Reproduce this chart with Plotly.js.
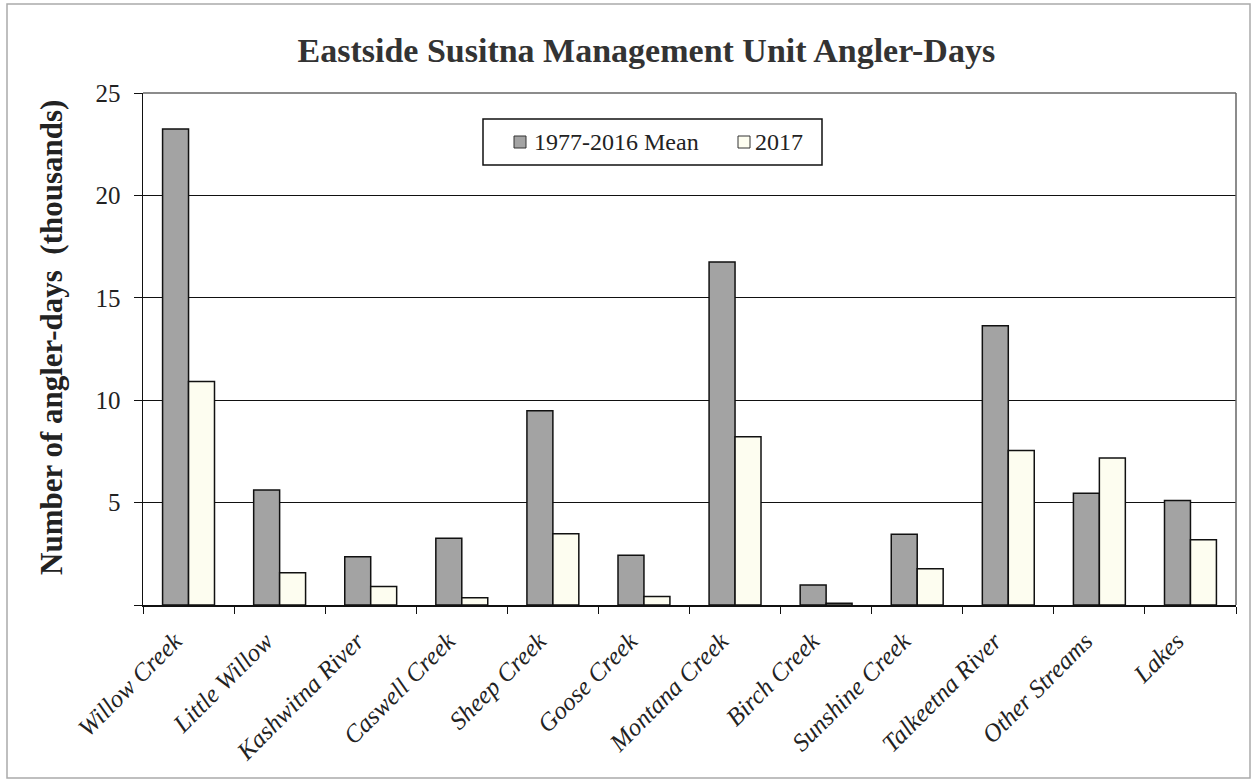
<!DOCTYPE html>
<html>
<head>
<meta charset="utf-8">
<script src="https://cdn.plot.ly/plotly-3.0.1.min.js"></script>
<style>
html,body{margin:0;padding:0;background:#fff;}
#chart{width:1255px;height:779px;}
</style>
</head>
<body>
<div id="chart"></div>
<script>
const categories = ["Willow Creek","Little Willow","Kashwitna River","Caswell Creek","Sheep Creek","Goose Creek","Montana Creek","Birch Creek","Sunshine Creek","Talkeetna River","Other Streams","Lakes"];
const meanValues = [23.24, 5.62, 2.36, 3.26, 9.48, 2.43, 16.75, 0.98, 3.45, 13.63, 5.46, 5.10];
const values2017 = [10.91, 1.58, 0.90, 0.36, 3.48, 0.42, 8.22, 0.08, 1.77, 7.54, 7.18, 3.18];
const seriesNames = ["1977-2016 Mean", "2017"];
const seriesColors = ["#a3a3a3", "#fdfdf0"];
const yTickVals = [0, 5, 10, 15, 20, 25];
const yTickText = ["", "5", "10", "15", "20", "25"];
const yTitle = "Number of angler-days  (thousands)";
const chartTitle = "Eastside Susitna Management Unit Angler-Days";

const serif = "Liberation Serif, Times New Roman, serif";

// plot area in pixels (for legend / label placement helpers)
const W = 1255, H = 779, ML = 143, MR = 19, MT = 93, MB = 174;
const PW = W - ML - MR, PH = H - MT - MB;
const px = v => (v - ML) / PW;
const py = v => (H - MB - v) / PH;

const traces = [
  {type:"bar", name:seriesNames[0], x:categories, y:meanValues, showlegend:false,
   marker:{color:seriesColors[0], line:{color:"#111", width:1.5}}},
  {type:"bar", name:seriesNames[1], x:categories, y:values2017, showlegend:false,
   marker:{color:seriesColors[1], line:{color:"#111", width:1.5}}}
];

const legendShapes = [
  {type:"rect", xref:"paper", yref:"paper", x0:px(483), x1:px(822), y0:py(165), y1:py(119),
   line:{color:"#111", width:1.5}, fillcolor:"#fff", layer:"above"},
  {type:"rect", xref:"paper", yref:"paper", x0:px(514), x1:px(526), y0:py(148), y1:py(136),
   line:{color:"#333", width:1}, fillcolor:seriesColors[0], layer:"above"},
  {type:"rect", xref:"paper", yref:"paper", x0:px(738), x1:px(750), y0:py(148), y1:py(136),
   line:{color:"#333", width:1}, fillcolor:seriesColors[1], layer:"above"}
];
const annots = [
  {xref:"paper", yref:"paper", x:px(532), y:py(142), xanchor:"left", yanchor:"middle",
   text:seriesNames[0], showarrow:false, font:{family:serif, size:24, color:"#222"}},
  {xref:"paper", yref:"paper", x:px(753), y:py(142), xanchor:"left", yanchor:"middle",
   text:seriesNames[1], showarrow:false, font:{family:serif, size:24, color:"#222"}},
  {xref:"paper", yref:"paper", x:px(51), y:py(338), xanchor:"center", yanchor:"middle",
   textangle:-90, text:"<b>" + yTitle + "</b>", showarrow:false,
   font:{family:serif, size:31, color:"#222"}}
];

const layout = {
  width:W, height:H,
  paper_bgcolor:"#fff", plot_bgcolor:"#fff",
  margin:{l:ML, r:MR, t:MT, b:MB},
  barmode:"group", bargap:0.43, bargroupgap:0,
  showlegend:false,
  font:{family:serif, color:"#222"},
  title:{text:"<b>" + chartTitle + "</b>",
         font:{family:serif, size:34, color:"#333"},
         x:0.515, xanchor:"center", y:0.936, yanchor:"middle"},
  xaxis:{type:"category", tickson:"boundaries", ticks:"outside", ticklen:7,
         tickcolor:"#111", showline:true, linecolor:"#111", linewidth:1.5,
         tickangle:-45, ticklabelshift:-14, ticklabelstandoff:10,
         tickfont:{family:serif, size:25, color:"#222", style:"italic"},
         showgrid:false, zeroline:false},
  yaxis:{range:[0,25], tickvals:yTickVals, ticktext:yTickText, ticks:"outside", ticklen:8,
         tickcolor:"#111", showline:true, linecolor:"#111", linewidth:1.5,
         showgrid:true, gridcolor:"#111", gridwidth:1.3, zeroline:false,
         ticklabelstandoff:8,
         tickfont:{family:serif, size:25, color:"#222"}},
  annotations: annots,
  shapes:[
    {type:"line", xref:"paper", yref:"paper", x0:0, x1:1, y0:1, y1:1, line:{color:"#666", width:1.5}},
    {type:"line", xref:"paper", yref:"paper", x0:1, x1:1, y0:0, y1:1, line:{color:"#666", width:1.5}},
    {type:"rect", xref:"paper", yref:"paper", x0:px(7), x1:px(1250), y0:py(778), y1:py(4),
     line:{color:"#aaa", width:1.5}, layer:"below"}
  ].concat(legendShapes)
};

Plotly.newPlot("chart", traces, layout, {displayModeBar:false, staticPlot:true});
</script>
</body>
</html>
